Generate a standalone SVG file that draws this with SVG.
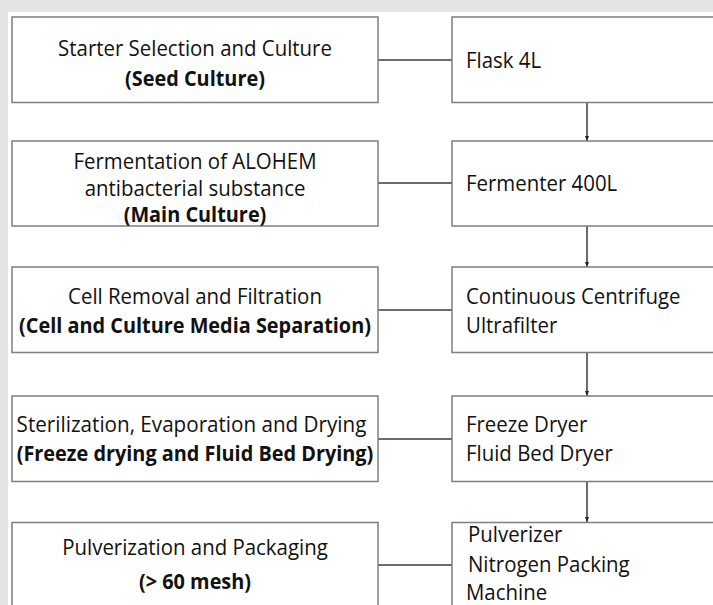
<svg xmlns="http://www.w3.org/2000/svg" width="713" height="605" viewBox="0 0 713 605">
<defs>
<style>
.box{fill:#ffffff;stroke:#7f7f7f;stroke-width:1.5}
.t{font-family:"Open Sans","Liberation Sans",sans-serif;font-size:21.5px;fill:#111111}
.c{text-anchor:middle}
.b{font-weight:bold}
.ln{stroke:#3a3a3a;stroke-width:1.5;fill:none}
</style>
<marker id="ah" viewBox="0 0 10 10" refX="10" refY="5" markerWidth="5" markerHeight="5" markerUnits="userSpaceOnUse" orient="auto">
<path d="M0,1 L10,5 L0,9 Z" fill="#222222"/>
</marker>
</defs>
<rect x="0" y="0" width="713" height="605" fill="#e3e3e3"/>
<rect x="8" y="12" width="705" height="593" fill="#ffffff"/>

<g id="connectors">
<line class="ln" x1="378" y1="60" x2="452" y2="60"/>
<line class="ln" x1="378" y1="183" x2="452" y2="183"/>
<line class="ln" x1="378" y1="310" x2="452" y2="310"/>
<line class="ln" x1="378" y1="439" x2="452" y2="439"/>
<line class="ln" x1="378" y1="565" x2="452" y2="565"/>
<line class="ln" x1="587" y1="103" x2="587" y2="141" marker-end="url(#ah)"/>
<line class="ln" x1="587" y1="226" x2="587" y2="267" marker-end="url(#ah)"/>
<line class="ln" x1="587" y1="353" x2="587" y2="396" marker-end="url(#ah)"/>
<line class="ln" x1="587" y1="482" x2="587" y2="522" marker-end="url(#ah)"/>
</g>

<g id="step1">
<rect class="box" x="12" y="17" width="366" height="85.5"/>
<g transform="translate(195 0) scale(0.95 1)">
<text class="t c" x="0" y="56">Starter Selection and Culture</text>
</g>
<g transform="translate(195 0) scale(0.925 1)">
<text class="t c b" x="0" y="86">(Seed Culture)</text>
</g>
</g>
<g id="equip1">
<rect class="box" x="452" y="17" width="280" height="85.5"/>
<g transform="translate(466 0) scale(0.95 1)">
<text class="t" x="0" y="68">Flask 4L</text>
</g>
</g>

<g id="step2">
<rect class="box" x="12" y="141" width="366" height="85"/>
<g transform="translate(195 0) scale(0.95 1)">
<text class="t c" x="0" y="169">Fermentation of ALOHEM</text>
<text class="t c" x="0" y="196">antibacterial substance</text>
</g>
<g transform="translate(195 0) scale(0.925 1)">
<text class="t c b" x="0" y="222.5">(Main Culture)</text>
</g>
</g>
<g id="equip2">
<rect class="box" x="452" y="141" width="280" height="85"/>
<g transform="translate(466 0) scale(0.95 1)">
<text class="t" x="0" y="191">Fermenter 400L</text>
</g>
</g>

<g id="step3">
<rect class="box" x="12" y="267" width="366" height="85.5"/>
<g transform="translate(195 0) scale(0.95 1)">
<text class="t c" x="0" y="304">Cell Removal and Filtration</text>
</g>
<g transform="translate(195 0) scale(0.925 1)">
<text class="t c b" x="0" y="333">(Cell and Culture Media Separation)</text>
</g>
</g>
<g id="equip3">
<rect class="box" x="452" y="267" width="280" height="85.5"/>
<g transform="translate(466 0) scale(0.95 1)">
<text class="t" x="0" y="304">Continuous Centrifuge</text>
<text class="t" x="0" y="333">Ultrafilter</text>
</g>
</g>

<g id="step4">
<rect class="box" x="12" y="396" width="366" height="85.5"/>
<g transform="translate(191.5 0) scale(0.96 1)">
<text class="t c" x="0" y="432">Sterilization, Evaporation and Drying</text>
</g>
<g transform="translate(195 0) scale(0.925 1)">
<text class="t c b" x="0" y="461">(Freeze drying and Fluid Bed Drying)</text>
</g>
</g>
<g id="equip4">
<rect class="box" x="452" y="396" width="280" height="85.5"/>
<g transform="translate(466 0) scale(0.95 1)">
<text class="t" x="0" y="432">Freeze Dryer</text>
<text class="t" x="0" y="461">Fluid Bed Dryer</text>
</g>
</g>

<g id="step5">
<rect class="box" x="12" y="522.5" width="366" height="100"/>
<g transform="translate(195 0) scale(0.95 1)">
<text class="t c" x="0" y="555">Pulverization and Packaging</text>
</g>
<g transform="translate(195 0) scale(0.925 1)">
<text class="t c b" x="0" y="589">(&gt; 60 mesh)</text>
</g>
</g>
<g id="equip5">
<rect class="box" x="452" y="522.5" width="280" height="100"/>
<g transform="translate(468 0) scale(0.95 1)">
<text class="t" x="0" y="542">Pulverizer</text>
<text class="t" x="0" y="572">Nitrogen Packing</text>
</g>
<g transform="translate(466 0) scale(0.95 1)">
<text class="t" x="0" y="600">Machine</text>
</g>
</g>
</svg>
